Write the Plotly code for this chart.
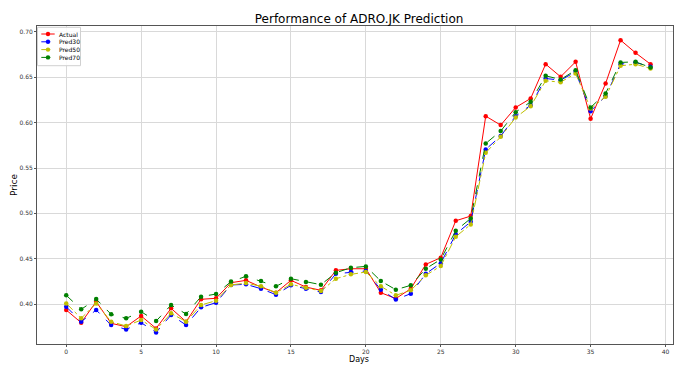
import plotly.graph_objects as go

days = list(range(40))
actual = [0.3934, 0.3794, 0.4026, 0.3787, 0.3750, 0.3868, 0.3731, 0.3952, 0.3805, 0.4052,
          0.4063, 0.4235, 0.4261, 0.4187, 0.4125, 0.4261, 0.4187, 0.4151, 0.4371, 0.4389,
          0.4389, 0.4125, 0.4060, 0.4169, 0.4437, 0.4511, 0.4918, 0.4970, 0.6072, 0.5973,
          0.6168, 0.6267, 0.6645, 0.6506, 0.6671, 0.6043, 0.6432, 0.6910, 0.6770, 0.6645]
pred30 = [0.3970, 0.3805, 0.3934, 0.3768, 0.3720, 0.3794, 0.3687, 0.3879, 0.3768, 0.3963,
          0.4015, 0.4210, 0.4217, 0.4169, 0.4103, 0.4206, 0.4169, 0.4132, 0.4334, 0.4353,
          0.4364, 0.4158, 0.4050, 0.4114, 0.4334, 0.4450, 0.4770, 0.4907, 0.5705, 0.5852,
          0.6072, 0.6193, 0.6487, 0.6469, 0.6561, 0.6127, 0.6292, 0.6645, 0.6664, 0.6616]
pred50 = [0.4007, 0.3842, 0.4007, 0.3805, 0.3757, 0.3823, 0.3720, 0.3897, 0.3805, 0.3989,
          0.4037, 0.4210, 0.4231, 0.4195, 0.4125, 0.4217, 0.4180, 0.4143, 0.4279, 0.4327,
          0.4353, 0.4195, 0.4096, 0.4151, 0.4316, 0.4419, 0.4742, 0.4878, 0.5668, 0.5844,
          0.6057, 0.6182, 0.6462, 0.6447, 0.6542, 0.6157, 0.6285, 0.6627, 0.6645, 0.6597]
pred70 = [0.4096, 0.3941, 0.4055, 0.3886, 0.3842, 0.3915, 0.3812, 0.3989, 0.3890, 0.4081,
          0.4110, 0.4247, 0.4305, 0.4253, 0.4195, 0.4279, 0.4242, 0.4213, 0.4345, 0.4400,
          0.4415, 0.4253, 0.4158, 0.4206, 0.4390, 0.4492, 0.4808, 0.4944, 0.5771, 0.5907,
          0.6116, 0.6230, 0.6517, 0.6476, 0.6579, 0.6168, 0.6322, 0.6664, 0.6671, 0.6608]

series = [
    ("Actual", actual, "#ff0000", "solid"),
    ("Pred30", pred30, "#0000ff", "dash"),
    ("Pred50", pred50, "#bfbf00", "dashdot"),
    ("Pred70", pred70, "#008000", "dash"),
]

W, H = 675, 365
ML, MR, MT, MB = 37, 2, 26, 21
PW, PH = W - ML - MR, H - MT - MB


def px_x(x):
    return (x - ML) / PW


def px_y(y):
    return (H - MB - y) / PH


fig = go.Figure()
for name, vals, color, dash in series:
    fig.add_trace(go.Scatter(
        x=days, y=vals, name=name, mode="lines+markers",
        line=dict(color=color, width=1, dash=dash),
        marker=dict(color=color, size=4.5, symbol="circle"),
        showlegend=False,
    ))

# compact legend (matplotlib style) drawn in paper coordinates
shapes = [dict(type="rect", xref="paper", yref="paper",
               x0=px_x(37.5), x1=px_x(80.5), y0=px_y(65.7), y1=px_y(27.3),
               line=dict(color="#d0d0d0", width=1), fillcolor="rgba(255,255,255,0.85)",
               layer="above")]
annotations = []
for i, (name, vals, color, dash) in enumerate(series):
    yy = 34 + i * 7.8
    shapes.append(dict(type="line", xref="paper", yref="paper",
                       x0=px_x(41.3), x1=px_x(54.7), y0=px_y(yy), y1=px_y(yy),
                       line=dict(color=color, width=1, dash="solid" if dash == "solid" else "dash"),
                       layer="above"))
    shapes.append(dict(type="circle", xref="paper", yref="paper",
                       xsizemode="pixel", ysizemode="pixel",
                       xanchor=px_x(48), yanchor=px_y(yy),
                       x0=-2.2, x1=2.2, y0=-2.2, y1=2.2,
                       line=dict(color=color, width=0), fillcolor=color, layer="above"))
    annotations.append(dict(xref="paper", yref="paper", x=px_x(57.3), y=px_y(yy),
                            xanchor="left", yanchor="middle", text=name, showarrow=False,
                            font=dict(size=6, color="#000000", family="DejaVu Sans")))

# x-axis title placed just below the tick labels
annotations.append(dict(xref="paper", yref="paper", x=px_x(359), y=px_y(365),
                        xanchor="center", yanchor="bottom", text="Days", showarrow=False,
                        borderpad=0,
                        font=dict(size=8, color="#000000", family="DejaVu Sans")))

axis_common = dict(
    showgrid=True, gridcolor="#d9d9d9", gridwidth=1,
    showline=True, linecolor="#555555", linewidth=1, mirror=True,
    ticks="outside", ticklen=2, tickcolor="#555555",
    tickfont=dict(size=6, color="#333333", family="DejaVu Sans"),
    zeroline=False, automargin=False,
)

fig.update_layout(
    width=W, height=H,
    margin=dict(l=ML, r=MR, t=MT, b=MB),
    paper_bgcolor="white", plot_bgcolor="white",
    title=dict(text="Performance of ADRO.JK Prediction", x=0.532, xanchor="center",
               y=1 - 18.3 / H, yanchor="middle",
               font=dict(size=12, color="#000000", family="DejaVu Sans")),
    font=dict(family="DejaVu Sans"),
    showlegend=False,
    shapes=shapes,
    annotations=annotations,
)
fig.update_xaxes(range=[-1.95, 40.5], tickvals=[0, 5, 10, 15, 20, 25, 30, 35, 40],
                 **axis_common)
fig.update_yaxes(range=[0.3559, 0.7066], tickvals=[0.40, 0.45, 0.50, 0.55, 0.60, 0.65, 0.70],
                 tickformat=".2f",
                 title=dict(text="Price", font=dict(size=9, color="#000000"), standoff=0),
                 **axis_common)

fig.write_html("out.html")
